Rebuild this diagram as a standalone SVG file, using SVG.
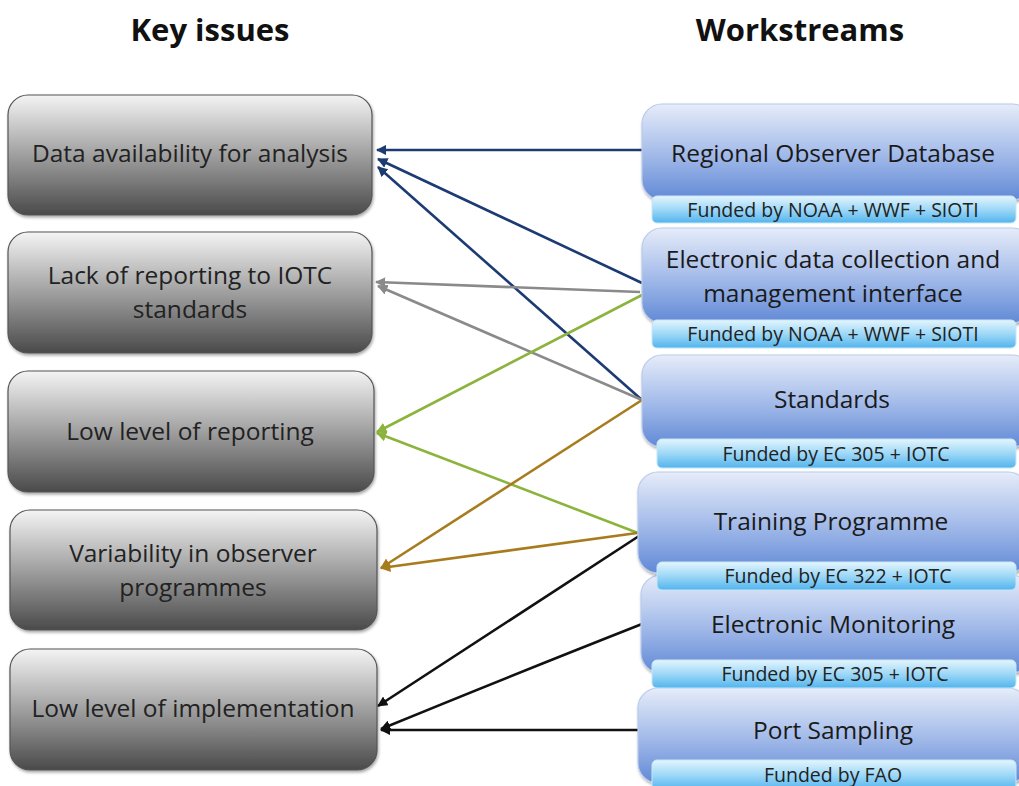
<svg xmlns="http://www.w3.org/2000/svg" width="1019" height="786" viewBox="0 0 1019 786">
<style>
.title{font-family:"Open Sans",Lato,"Liberation Sans",sans-serif;font-weight:bold;font-size:31px;fill:#111;text-anchor:middle}
.lt{font-family:"Open Sans",Lato,"Liberation Sans",sans-serif;font-size:24.5px;fill:#222;text-anchor:middle}
.rt{font-family:"Open Sans",Lato,"Liberation Sans",sans-serif;font-size:24.5px;fill:#1a1a1a;text-anchor:middle}
.st{font-family:"Open Sans",Lato,"Liberation Sans",sans-serif;font-size:19.5px;fill:#222;text-anchor:middle}
.gbox{fill:url(#gGray);stroke:#555;stroke-width:1.2;filter:url(#sh)}
.bbox{fill:url(#gBlue);stroke:#b9cbeb;stroke-width:1.2;filter:url(#sh)}
.sbar{fill:url(#gCyan);stroke:#c6e6f8;stroke-width:1}
.c{fill:none;stroke-width:2.6}
.navy{stroke:#1c3b72}
.gray{stroke:#8a8a8a}
.green{stroke:#8cb43c}
.brown{stroke:#a87c1e}
.black{stroke:#111}
</style>
<defs>
<linearGradient id="gGray" x1="0" y1="0" x2="0" y2="1">
<stop offset="0" stop-color="#f4f4f4"/>
<stop offset="0.45" stop-color="#a8a8a8"/>
<stop offset="1" stop-color="#4a4a4a"/>
</linearGradient>
<linearGradient id="gBlue" x1="0" y1="0" x2="0" y2="1">
<stop offset="0" stop-color="#e6ecf9"/>
<stop offset="0.5" stop-color="#a6bdea"/>
<stop offset="1" stop-color="#6189d6"/>
</linearGradient>
<linearGradient id="gCyan" x1="0" y1="0" x2="0" y2="1">
<stop offset="0" stop-color="#e3f5fd"/>
<stop offset="0.5" stop-color="#9ed8f7"/>
<stop offset="1" stop-color="#52b4ee"/>
</linearGradient>
<filter id="sh" x="-10%" y="-10%" width="120%" height="130%">
<feDropShadow dx="1" dy="2" stdDeviation="1.5" flood-color="#000" flood-opacity="0.35"/>
</filter>
<marker id="aNavy" viewBox="0 0 10 10" refX="9" refY="5" markerWidth="4" markerHeight="4" orient="auto"><path d="M0,0 L10,5 L0,10 z" fill="#1c3b72"/></marker>
<marker id="aGray" viewBox="0 0 10 10" refX="9" refY="5" markerWidth="4" markerHeight="4" orient="auto"><path d="M0,0 L10,5 L0,10 z" fill="#8a8a8a"/></marker>
<marker id="aGreen" viewBox="0 0 10 10" refX="9" refY="5" markerWidth="4" markerHeight="4" orient="auto"><path d="M0,0 L10,5 L0,10 z" fill="#8cb43c"/></marker>
<marker id="aBrown" viewBox="0 0 10 10" refX="9" refY="5" markerWidth="4" markerHeight="4" orient="auto"><path d="M0,0 L10,5 L0,10 z" fill="#a87c1e"/></marker>
<marker id="aBlack" viewBox="0 0 10 10" refX="9" refY="5" markerWidth="4" markerHeight="4" orient="auto"><path d="M0,0 L10,5 L0,10 z" fill="#111"/></marker>
</defs>
<rect width="1019" height="786" fill="#fff"/>
<text class="title" x="210" y="41">Key issues</text>
<text class="title" x="800" y="41">Workstreams</text>

<g id="connectors">
<path class="c navy" d="M642,150 L377,150" marker-end="url(#aNavy)"/>
<path class="c navy" d="M642,283 L378,159" marker-end="url(#aNavy)"/>
<path class="c navy" d="M642,400 L378,167" marker-end="url(#aNavy)"/>
<path class="c gray" d="M640,292 L376,282" marker-end="url(#aGray)"/>
<path class="c gray" d="M642,400 L378,286" marker-end="url(#aGray)"/>
<path class="c green" d="M642,295 L377,432" marker-end="url(#aGreen)"/>
<path class="c green" d="M638,533 L377,433" marker-end="url(#aGreen)"/>
<path class="c brown" d="M642,400 L381,568" marker-end="url(#aBrown)"/>
<path class="c brown" d="M637,533 L381,568" marker-end="url(#aBrown)"/>
<path class="c black" d="M639,536 L378,706" marker-end="url(#aBlack)"/>
<path class="c black" d="M642,624 Q500,680 381,729" marker-end="url(#aBlack)"/>
<path class="c black" d="M640,730 L381,730" marker-end="url(#aBlack)"/>
</g>

<g id="issue-data">
<rect class="gbox" x="8" y="95" width="364" height="120" rx="20"/>
<text class="lt" x="190" y="162">Data availability for analysis</text>
</g>
<g id="issue-lack">
<rect class="gbox" x="8" y="232" width="364" height="121" rx="20"/>
<text class="lt" x="190" y="284">Lack of reporting to IOTC</text>
<text class="lt" x="190" y="318">standards</text>
</g>
<g id="issue-low-reporting">
<rect class="gbox" x="8" y="371" width="366" height="121" rx="20"/>
<text class="lt" x="190" y="440">Low level of reporting</text>
</g>
<g id="issue-variability">
<rect class="gbox" x="10" y="510" width="367" height="120" rx="20"/>
<text class="lt" x="193" y="562">Variability in observer</text>
<text class="lt" x="193" y="596">programmes</text>
</g>
<g id="issue-implementation">
<rect class="gbox" x="10" y="649" width="367" height="121" rx="20"/>
<text class="lt" x="193" y="717">Low level of implementation</text>
</g>

<g id="ws-port">
<rect class="bbox" x="638" y="688" width="390" height="95" rx="20"/>
<text class="rt" x="833" y="739">Port Sampling</text>
<rect class="sbar" x="652" y="760" width="364" height="30" rx="5"/>
<text class="st" x="833" y="782">Funded by FAO</text>
</g>
<g id="ws-em">
<rect class="bbox" x="641" y="575" width="390" height="98" rx="20"/>
<text class="rt" x="833" y="633">Electronic Monitoring</text>
<rect class="sbar" x="652" y="660" width="364" height="28" rx="5"/>
<text class="st" x="835" y="681">Funded by EC 305 + IOTC</text>
</g>
<g id="ws-training">
<rect class="bbox" x="638" y="472" width="390" height="101" rx="20"/>
<text class="rt" x="831" y="530">Training Programme</text>
<rect class="sbar" x="657" y="562" width="359" height="28" rx="5"/>
<text class="st" x="838" y="583">Funded by EC 322 + IOTC</text>
</g>
<g id="ws-standards">
<rect class="bbox" x="642" y="355" width="390" height="92" rx="20"/>
<text class="rt" x="832" y="408">Standards</text>
<rect class="sbar" x="657" y="439" width="359" height="29" rx="5"/>
<text class="st" x="836" y="461">Funded by EC 305 + IOTC</text>
</g>
<g id="ws-electronic">
<rect class="bbox" x="642" y="228" width="390" height="95" rx="20"/>
<text class="rt" x="833" y="268">Electronic data collection and</text>
<text class="rt" x="833" y="302">management interface</text>
<rect class="sbar" x="652" y="320" width="364" height="28" rx="5"/>
<text class="st" x="833" y="341">Funded by NOAA + WWF + SIOTI</text>
</g>
<g id="ws-database">
<rect class="bbox" x="642" y="104" width="390" height="96" rx="20"/>
<text class="rt" x="833" y="162">Regional Observer Database</text>
<rect class="sbar" x="652" y="196" width="364" height="27" rx="5"/>
<text class="st" x="833" y="217">Funded by NOAA + WWF + SIOTI</text>
</g>
</svg>
